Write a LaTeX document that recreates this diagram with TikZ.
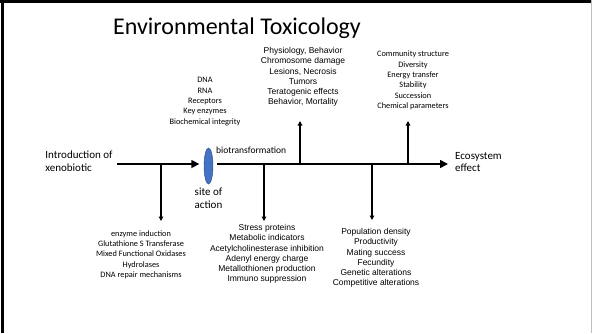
\documentclass[tikz,border=0pt]{standalone}
\usepackage{fontspec}
\setmainfont{Carlito}
\newfontfamily\arialfont{Liberation Sans}
\usepackage{tikz}
\usetikzlibrary{positioning,arrows.meta,shapes.geometric}
\usepackage{xcolor}
\definecolor{site}{RGB}{68,114,196}
\definecolor{siteedge}{RGB}{40,70,130}
\definecolor{frame}{RGB}{190,190,190}

\begin{document}
\begin{tikzpicture}[
    x=1pt, y=-1pt,
    titletext/.style={font=\fontsize{24}{28}\selectfont, inner sep=0pt},
    sidelabel/.style={font=\fontsize{11}{12.8}\selectfont, align=left, inner sep=0pt},
    listC/.style={font=\fontsize{8.3}{10.3}\selectfont, align=center, inner sep=0pt},
    listA/.style={font=\arialfont\fontsize{8.5}{10.3}\selectfont, align=center, inner sep=0pt},
    arrow/.style={-{Triangle[length=4.5pt, width=4.5pt]}, line width=1.3pt},
    mainarrow/.style={-{Triangle[length=8pt, width=8pt]}, line width=1.6pt},
    node distance=3pt
]
    \useasboundingbox (0,0) rectangle (592,333);
    % slide frame
    \draw[line width=2.5pt] (0,1.5) -- (592,1.5);
    \draw[line width=3pt] (2,0) -- (2,333);
    \draw[frame, line width=1pt] (591.5,0) -- (591.5,333);

    \node[titletext] (title) at (237,28) {Environmental Toxicology};

    % main axis
    \node[draw=siteedge, fill=site, ellipse, minimum width=9pt, minimum height=36pt, inner sep=0pt] (site) at (208.5,166) {};
    \node[sidelabel, align=center] (sitetext) at (208.5,198.5) {site of\\action};
    \node[sidelabel] (intro) at (79,161.5) {Introduction of\\xenobiotic};
    \node[sidelabel, anchor=west] (eco) at (455,162) {Ecosystem\\effect};
    \node[listC, font=\fontsize{9.5}{11}\selectfont, anchor=west] (bio) at (216,150.5) {biotransformation};
    \coordinate (start) at (117,164);
    \coordinate (finish) at (448,164);
    \draw[mainarrow] (start) -- (start -| site.west) [shorten >=4.5pt];
    \draw[mainarrow] (site.east |- finish) -- (finish) [shorten <=4pt];

    % branch points and arrow tips
    \coordinate (b1) at (161,164);  \coordinate (t1) at (161,221);
    \coordinate (b2) at (264,164);  \coordinate (t2) at (264,221);
    \coordinate (b3) at (300,164);  \coordinate (t3) at (300,121);
    \coordinate (b4) at (372,164);  \coordinate (t4) at (372,220);
    \coordinate (b5) at (408,164);  \coordinate (t5) at (408,121);
    \draw[arrow] (b1) -- (t1);
    \draw[arrow] (b2) -- (t2);
    \draw[arrow] (b3) -- (t3);
    \draw[arrow] (b4) -- (t4);
    \draw[arrow] (b5) -- (t5);

    % responses
    \node[listC] (molecular) at (205,101.5) {DNA\\RNA\\Receptors\\Key enzymes\\Biochemical integrity};
    \node[listA] (organism) at (303,77) {Physiology, Behavior\\Chromosome damage\\Lesions, Necrosis\\Tumors\\Teratogenic effects\\Behavior, Mortality};
    \node[listC] (community) at (413,80.5) {Community structure\\Diversity\\Energy transfer\\Stability\\Succession\\Chemical parameters};
    \node[listC] (enzymes) at (141,254.5) {enzyme induction\\Glutathione S Transferase\\Mixed Functional Oxidases\\Hydrolases\\DNA repair mechanisms};
    \node[listA] (cellular) at (267,254) {Stress proteins\\Metabolic indicators\\Acetylcholinesterase inhibition\\Adenyl energy charge\\Metallothionen production\\Immuno suppression};
    \node[listA] (population) at (376,258) {Population density\\Productivity\\Mating success\\Fecundity\\Genetic alterations\\Competitive alterations};
\end{tikzpicture}
\end{document}
